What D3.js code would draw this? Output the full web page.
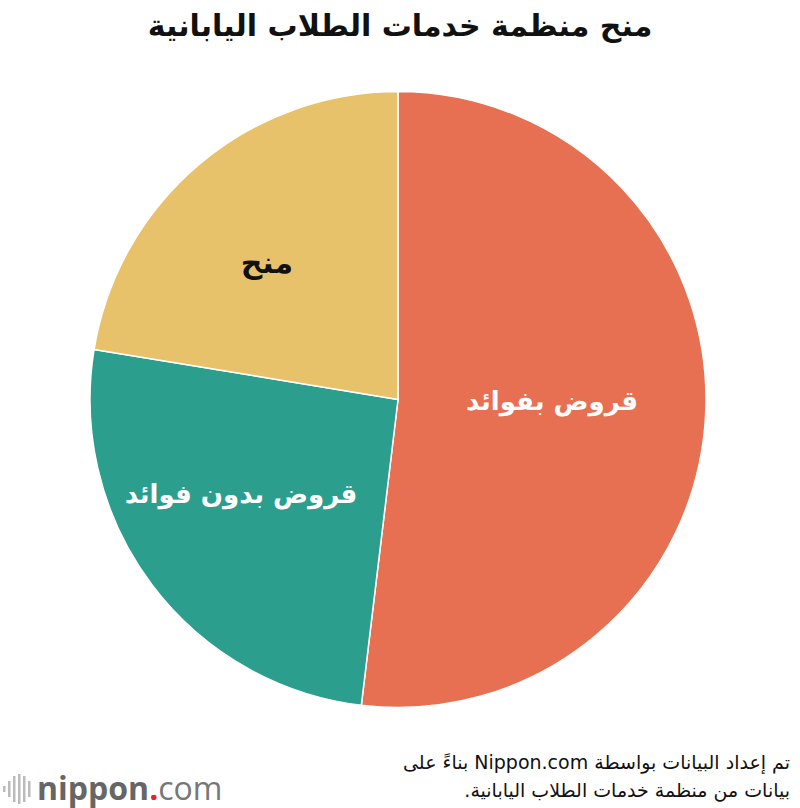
<!DOCTYPE html>
<html><head><meta charset="utf-8">
<script src="https://cdn.jsdelivr.net/npm/d3@7"></script>
<style>body{margin:0;background:#fff}svg{display:block}</style>
</head><body>
<svg id="c" width="800" height="808"></svg>
<script>
const categories = ["قروض بفوائد", "قروض بدون فوائد", "منح"];
const values = [51.9, 25.7, 22.4];
const colors = ["#e77052", "#2b9e8e", "#e8c26a"];
const labelColors = ["#ffffff", "#ffffff", "#111111"];
const labelRadius = [0.5, 0.595, 0.615];
const labelAngleShift = [-2.9, 5.8, -3.5]; // degrees
const labelSizes = [26, 26, 30];
const title = "منح منظمة خدمات الطلاب اليابانية";
const sourceLines = ["تم إعداد البيانات بواسطة Nippon.com بناءً على", "بيانات من منظمة خدمات الطلاب اليابانية."];

const svg = d3.select("#c");
const cx = 398, cy = 399.5, R = 308;
const font = "'DejaVu Sans', sans-serif";

svg.append("text").attr("x", 400).attr("y", 36).attr("text-anchor", "middle")
  .attr("font-family", font).attr("font-weight", "bold").attr("font-size", 30)
  .attr("fill", "#111").text(title);

const pie = d3.pie().sort(null).value(d => d)(values);
const arc = d3.arc().innerRadius(0).outerRadius(R);
const g = svg.append("g").attr("transform", `translate(${cx},${cy})`);
g.selectAll("path").data(pie).join("path")
  .attr("d", arc).attr("fill", (d, i) => colors[i])
  .attr("stroke", "#fff").attr("stroke-width", 1.5).attr("stroke-linejoin", "round");

g.selectAll("text.lab").data(pie).join("text").attr("class", "lab")
  .attr("transform", (d, i) => {
    const a = (d.startAngle + d.endAngle) / 2 + labelAngleShift[i] * Math.PI / 180;
    const r = R * labelRadius[i];
    return `translate(${r * Math.sin(a)},${-r * Math.cos(a)})`;
  })
  .attr("text-anchor", "middle").attr("dy", "0.35em")
  .attr("font-family", font).attr("font-weight", "bold").attr("font-size", (d, i) => labelSizes[i])
  .attr("fill", (d, i) => labelColors[i]).text((d, i) => categories[i]);

const src = svg.append("text").attr("direction", "rtl").attr("text-anchor", "start")
  .attr("font-family", font).attr("font-size", 19).attr("fill", "#111");
sourceLines.forEach((t, i) => src.append("tspan").attr("x", 790).attr("y", 769 + i * 28).text(t));

// logo
const logo = svg.append("g");
const bars = [[3, 786, 6], [8, 781, 16], [13, 776, 26], [18, 774, 30], [23, 776, 26], [28, 781, 16]];
bars.forEach(b => logo.append("rect").attr("x", b[0]).attr("y", b[1]).attr("width", 2.5).attr("height", b[2]).attr("fill", "#bbb"));
const lt = logo.append("text").attr("x", 37).attr("y", 800).attr("font-family", "'Open Sans', sans-serif")
  .attr("font-size", 32).attr("fill", "#666");
lt.append("tspan").attr("font-weight", "bold").text("nippon");
lt.append("tspan").attr("fill", "#e8202a").attr("font-weight", "bold").text(".");
lt.append("tspan").attr("font-weight", "normal").attr("fill", "#777").text("com");
</script>
</body></html>
